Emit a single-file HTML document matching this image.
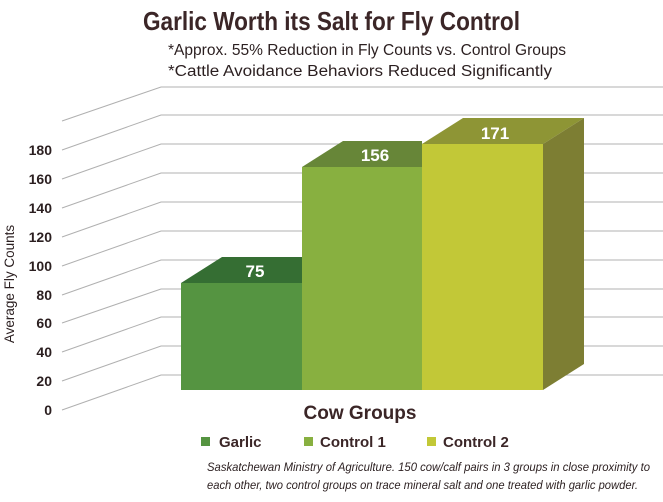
<!DOCTYPE html>
<html><head><meta charset="utf-8"><style>
html,body{margin:0;padding:0;background:#fff;}
svg{display:block;font-family:"Liberation Sans",sans-serif;}
</style></head><body>
<svg width="663" height="502" viewBox="0 0 663 502" xmlns="http://www.w3.org/2000/svg">
<rect width="663" height="502" fill="#fff"/>
<text x="143" y="30" textLength="377" lengthAdjust="spacingAndGlyphs" font-size="26" font-weight="bold" fill="#3b2627">Garlic Worth its Salt for Fly Control</text>
<text x="168" y="55" textLength="398" lengthAdjust="spacingAndGlyphs" font-size="15.5" fill="#2b1f20">*Approx. 55% Reduction in Fly Counts vs. Control Groups</text>
<text x="168" y="76" textLength="384" lengthAdjust="spacingAndGlyphs" font-size="15.5" fill="#2b1f20">*Cattle Avoidance Behaviors Reduced Significantly</text>
<g stroke="#b0b0b0" stroke-width="1" fill="none">
<path d="M62 121 L161 87 H663"/>
<path d="M62 150 L161 115 H663"/>
<path d="M62 179 L161 144 H663"/>
<path d="M62 208 L161 173 H663"/>
<path d="M62 237 L161 202 H663"/>
<path d="M62 266 L161 231 H663"/>
<path d="M62 295 L161 260 H663"/>
<path d="M62 323 L161 289 H663"/>
<path d="M62 352 L161 317 H663"/>
<path d="M62 381 L161 346 H663"/>
<path d="M62 410 L161 375 H663"/>
</g>
<g font-size="14" font-weight="bold" fill="#2b1f20" text-anchor="end">
<text x="52" y="155">180</text><text x="52" y="184">160</text><text x="52" y="213">140</text>
<text x="52" y="242">120</text><text x="52" y="271">100</text><text x="52" y="300">80</text>
<text x="52" y="328">60</text><text x="52" y="357">40</text><text x="52" y="386">20</text>
<text x="52" y="415">0</text>
</g>
<text transform="translate(14,284) rotate(-90)" text-anchor="middle" font-size="13.5" fill="#2b1f20">Average Fly Counts</text>
<polygon points="181,283 222,257 302,257 302,283" fill="#356e33"/>
<rect x="181" y="283" width="121" height="107" fill="#559441"/>
<polygon points="302,167 343,141 422,141 422,167" fill="#678638"/>
<rect x="302" y="167" width="120" height="223" fill="#88b040"/>
<polygon points="422,144 463,118 584,118 543,144" fill="#8e9535"/>
<rect x="422" y="144" width="121" height="246" fill="#c2c837"/>
<polygon points="543,144 584,118 584,364 543,390" fill="#7d7e33"/>
<g font-size="17" font-weight="bold" fill="#fff" text-anchor="middle">
<text x="255" y="277">75</text><text x="375" y="161">156</text><text x="495" y="139">171</text>
</g>
<text x="360" y="419" text-anchor="middle" font-size="19" font-weight="bold" fill="#3b2627">Cow Groups</text>
<g font-size="15" font-weight="bold" fill="#3b2627">
<rect x="201" y="437" width="9" height="9" fill="#559441"/><text x="219" y="447">Garlic</text>
<rect x="304" y="437" width="9" height="9" fill="#88b040"/><text x="320" y="447">Control 1</text>
<rect x="427" y="437" width="9" height="9" fill="#c2c837"/><text x="443" y="447">Control 2</text>
</g>
<g font-size="11.8" font-style="italic" fill="#2b1f20">
<text x="207" y="471" textLength="443" lengthAdjust="spacingAndGlyphs">Saskatchewan Ministry of Agriculture.  150 cow/calf pairs in 3 groups in close proximity to</text>
<text x="207" y="489" textLength="431" lengthAdjust="spacingAndGlyphs">each other, two control groups on trace mineral salt and one treated with garlic powder.</text>
</g>
</svg>
</body></html>
